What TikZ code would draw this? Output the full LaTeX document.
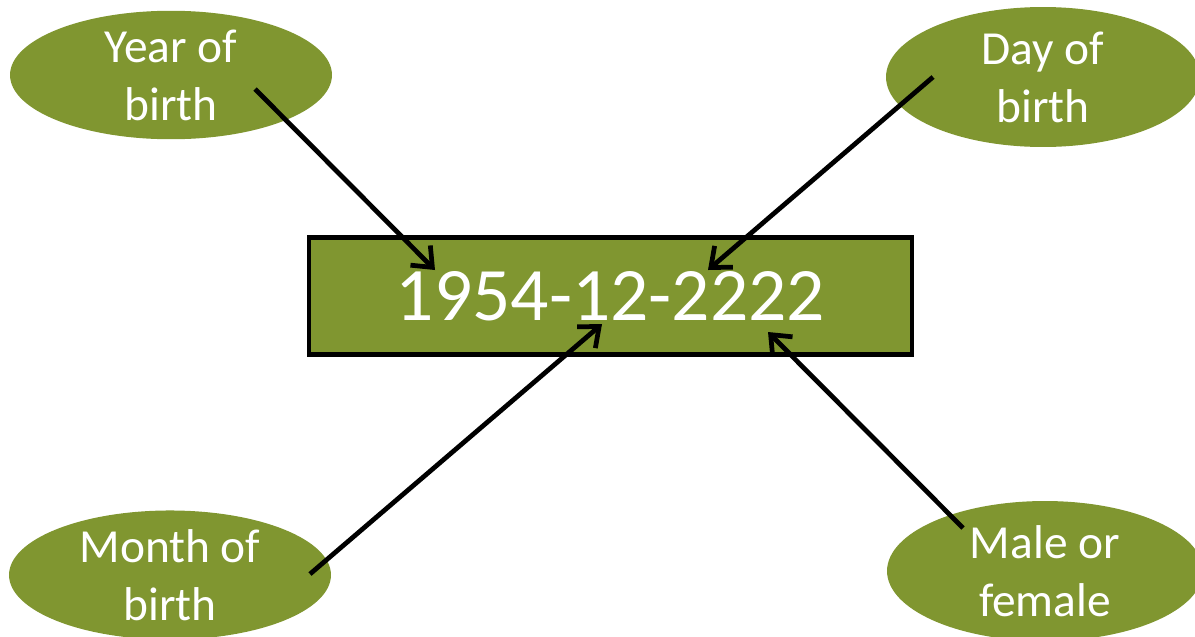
\documentclass[tikz,border=0pt]{standalone}
\usepackage{fontspec}
\setmainfont{Carlito}
\usetikzlibrary{arrows.meta,%
                shapes.geometric}
\definecolor{olivefill}{RGB}{128,150,48}

\begin{document}
\begin{tikzpicture}
  [x=0.02cm,y=-0.02cm,
   field/.style={ellipse,fill=olivefill,text=white,inner sep=0pt,align=center,
     minimum width=6.44cm,minimum height=2.5cm,font=\fontsize{27}{33}\selectfont},
   pointer/.style={line width=2.7pt,-{Straight Barb[length=3.4mm,width=5.6mm]}}]
  \useasboundingbox (0,0) rectangle (1195,636);
  \clip (0,0) rectangle (1195,636);
  \node[field] (year) at (171,75) {Year of\\birth};
  \node[field,minimum width=6.28cm,minimum height=2.8cm] (day) at (1043,77) {Day of\\birth};
  \node[field,minimum height=2.52cm] (month) at (170,575) {Month of\\birth};
  \node[field,minimum width=6.32cm,minimum height=2.8cm] (sex) at (1045,571) {Male or\\female};
  \node[draw=black,line width=2.5pt,fill=olivefill,text=white,inner sep=0pt,
    minimum width=12.06cm,minimum height=2.34cm,font=\fontsize{43}{50}\selectfont] (id) at (610.5,296) {1954-12-2222};
  \coordinate (yearTail) at (255,89);
  \coordinate (yearTip) at (435,270);
  \coordinate (dayTail) at (933,77);
  \coordinate (dayTip) at (708,270);
  \coordinate (monthTail) at (310,574);
  \coordinate (monthTip) at (602,324);
  \coordinate (sexTail) at (963,528);
  \coordinate (sexTip) at (768,332);
  \foreach \from/\to in {yearTail/yearTip,dayTail/dayTip,monthTail/monthTip,sexTail/sexTip}
    \draw[pointer] (\from) -- (\to);
\end{tikzpicture}
\end{document}
